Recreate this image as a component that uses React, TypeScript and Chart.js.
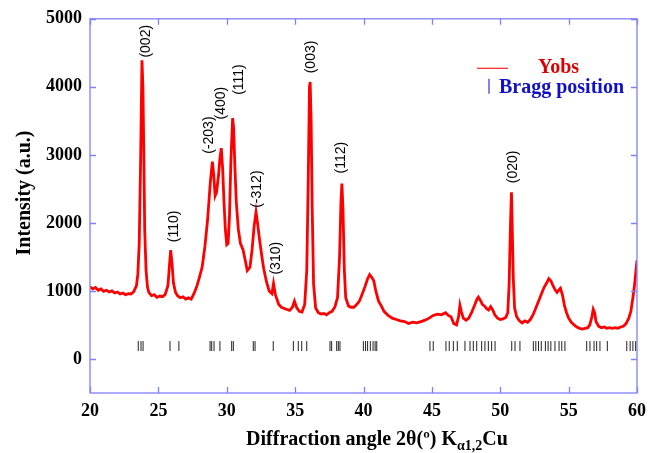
import React, { useEffect, useRef } from "react";
import { Chart, registerables } from "chart.js";

Chart.register(...registerables);

// Observed pattern (2θ in degrees, intensity in a.u.)
const twoTheta = [
  20.0, 20.2, 20.4, 20.6, 20.8, 21.0, 21.2, 21.4, 21.6, 21.8, 22.0, 22.2, 22.4, 22.6, 22.8, 23.0, 23.2, 23.4, 23.5, 23.6,
  23.7, 23.8, 23.87, 23.93, 24.0, 24.1, 24.2, 24.3, 24.5, 24.7, 24.9, 25.1, 25.3, 25.5, 25.7, 25.8, 25.9, 26.0, 26.1, 26.25,
  26.4, 26.6, 26.8, 27.0, 27.2, 27.4, 27.6, 27.8, 28.0, 28.2, 28.4, 28.6, 28.8, 28.95, 29.05, 29.15, 29.25, 29.4, 29.5, 29.6,
  29.7, 29.8, 29.9, 30.0, 30.1, 30.2, 30.3, 30.43, 30.5, 30.6, 30.7, 30.85, 31.0, 31.2, 31.35, 31.5, 31.7, 31.85, 32.0, 32.14,
  32.25, 32.4, 32.55, 32.7, 32.9, 33.1, 33.3, 33.42, 33.55, 33.8, 34.0, 34.3, 34.6, 34.8, 34.95, 35.1, 35.3, 35.5, 35.7, 35.85,
  35.95, 36.05, 36.1, 36.17, 36.25, 36.35, 36.5, 36.7, 36.9, 37.1, 37.3, 37.5, 37.7, 37.9, 38.1, 38.25, 38.35, 38.42, 38.5, 38.6,
  38.7, 38.9, 39.1, 39.3, 39.5, 39.7, 39.9, 40.1, 40.3, 40.45, 40.6, 40.75, 40.9, 41.1, 41.3, 41.5, 41.8, 42.1, 42.4, 42.7,
  43.0, 43.3, 43.6, 43.9, 44.2, 44.5, 44.8, 45.1, 45.4, 45.7, 46.0, 46.2, 46.4, 46.6, 46.8, 46.95, 47.05, 47.15, 47.3, 47.5,
  47.7, 47.9, 48.1, 48.3, 48.4, 48.55, 48.7, 48.85, 49.0, 49.15, 49.3, 49.45, 49.6, 49.8, 50.0, 50.2, 50.4, 50.55, 50.65, 50.75,
  50.82, 50.88, 50.95, 51.05, 51.2, 51.4, 51.6, 51.8, 52.0, 52.2, 52.4, 52.6, 52.8, 53.0, 53.2, 53.4, 53.55, 53.7, 53.85, 54.0,
  54.15, 54.3, 54.4, 54.55, 54.7, 54.85, 55.0, 55.2, 55.4, 55.6, 55.8, 56.0, 56.2, 56.4, 56.55, 56.7, 56.8, 56.9, 57.0, 57.2,
  57.4, 57.6, 57.8, 58.0, 58.2, 58.4, 58.6, 58.8, 59.0, 59.2, 59.4, 59.55, 59.7, 59.8, 59.9, 60.0,
];
const intensity = [
  1060, 1030, 1050, 1010, 1030, 995, 1010, 985, 1000, 970, 985, 955, 970, 945, 960, 955, 990, 1080, 1250, 1700,
  2900, 4390, 4000, 3100, 1900, 1300, 1060, 980, 930, 945, 905, 925, 915, 950, 1080, 1350, 1600, 1400, 1120, 980,
  930, 900, 915, 880, 900, 880, 960, 1060, 1200, 1350, 1650, 2050, 2600, 2900, 2700, 2400, 2450, 2700, 2950, 3100,
  2800, 2300, 1900, 1680, 1700, 2100, 2900, 3540, 3400, 2800, 2300, 1900, 1700, 1600, 1450, 1300, 1350, 1600, 1950, 2160,
  2000, 1750, 1530, 1330, 1140, 1000, 960, 1110, 950, 800, 760, 735, 715, 760, 850, 760, 700, 690, 800, 1300,
  2500, 4000, 4070, 3500, 2200, 1100, 750, 680, 660, 670, 650, 680, 700, 760, 900, 1500, 2300, 2580, 2200, 1300,
  900, 780, 760, 760, 800, 850, 950, 1060, 1180, 1240, 1200, 1150, 1000, 850, 780, 700, 640, 600, 580, 560,
  550, 520, 540, 530, 550, 570, 600, 640, 660, 650, 680, 640, 620, 520, 500, 620, 790, 700, 600, 570,
  600, 680, 780, 880, 910, 860, 800, 780, 740, 720, 770, 720, 650, 600, 580, 590, 610, 680, 1100, 2000,
  2450, 1900, 1200, 750, 620, 560, 530, 560, 540, 580, 650, 750, 850, 950, 1050, 1120, 1180, 1150, 1080, 1020,
  980, 1020, 1040, 940, 780, 680, 600, 540, 500, 470, 450, 440, 450, 460, 500, 620, 730, 680, 550, 480,
  460, 470, 450, 460, 450, 460, 450, 470, 480, 520, 600, 700, 900, 1050, 1250, 1450,
];

// Bragg reflection positions (2θ)
const braggPositions = [
  23.53, 23.73, 23.88, 25.85, 26.5, 28.78, 28.9, 29.07, 29.5, 30.36, 30.48, 31.94, 32.07, 33.4,
  34.87, 35.23, 35.48, 35.85, 37.55, 37.67, 38.04, 38.16, 38.28, 39.99, 40.15, 40.3, 40.5, 40.7, 40.85, 40.97,
  44.86, 45.1, 46.03, 46.27, 46.57, 46.86, 47.42, 47.79, 48.03, 48.28, 48.64, 48.88, 49.13, 49.37, 49.62,
  50.84, 51.08, 51.44, 52.42, 52.6, 52.8, 53.0, 53.3, 53.5, 53.7, 54.0, 54.3, 54.5, 54.73,
  56.32, 56.56, 56.86, 57.05, 57.29, 57.83, 59.25, 59.5, 59.7, 59.9,
];
const braggLevel = 190;

// Miller index labels
const peakLabels = ["(002)", "(110)", "(-203)", "(400)", "(111)", "(-312)", "(310)", "(003)", "(112)", "(020)"];
const peakLabelAngle = [24.1, 26.14, 28.74, 29.58, 30.9, 32.25, 33.64, 36.16, 38.39, 50.93];
const peakLabelBase = [4430, 1717, 3016, 3521, 3882, 2222, 1241, 4199, 2727, 2583];

const xTicks = [20, 25, 30, 35, 40, 45, 50, 55, 60];
const yTicks = [0, 1000, 2000, 3000, 4000, 5000];

const AXIS = "#8080ff";
const SERIF = '"Liberation Serif", "Times New Roman", serif';

const overlay = {
  id: "overlay",
  afterDraw(chart: any) {
    const { ctx, chartArea: a, scales } = chart;
    const x = scales.x;
    const y = scales.y;
    ctx.save();
    // frame
    ctx.strokeStyle = AXIS;
    ctx.lineWidth = 1.3;
    ctx.strokeRect(a.left, a.top, a.right - a.left, a.bottom - a.top);
    ctx.beginPath();
    xTicks.forEach((v) => {
      const px = Math.round(x.getPixelForValue(v)) + 0.5;
      ctx.moveTo(px, a.bottom);
      ctx.lineTo(px, a.bottom - 6);
      ctx.moveTo(px, a.top);
      ctx.lineTo(px, a.top + 6);
    });
    yTicks.forEach((v) => {
      const py = Math.round(y.getPixelForValue(v)) + 0.5;
      ctx.moveTo(a.left, py);
      ctx.lineTo(a.left + 6, py);
      ctx.moveTo(a.right, py);
      ctx.lineTo(a.right - 6, py);
    });
    ctx.stroke();

    // peak labels
    ctx.fillStyle = "#000";
    ctx.font = '14px "Liberation Sans", Arial, sans-serif';
    ctx.textAlign = "left";
    ctx.textBaseline = "middle";
    peakLabels.forEach((t, i) => {
      const px = x.getPixelForValue(peakLabelAngle[i]);
      const py = y.getPixelForValue(peakLabelBase[i]);
      ctx.save();
      ctx.translate(px, py);
      ctx.rotate(-Math.PI / 2);
      ctx.fillText(t, 0, 0);
      ctx.restore();
    });

    // legend
    ctx.strokeStyle = "#ff2020";
    ctx.lineWidth = 1.2;
    ctx.beginPath();
    ctx.moveTo(a.right - 160, a.top + 49.5);
    ctx.lineTo(a.right - 129, a.top + 49.5);
    ctx.stroke();
    ctx.font = "bold 20px " + SERIF;
    ctx.textBaseline = "alphabetic";
    ctx.fillStyle = "#dd0000";
    ctx.fillText("Yobs", a.right - 99, a.top + 54);
    ctx.strokeStyle = "#3030dd";
    ctx.beginPath();
    ctx.moveTo(a.right - 148, a.top + 60);
    ctx.lineTo(a.right - 148, a.top + 75);
    ctx.stroke();
    ctx.fillStyle = "#1010cc";
    ctx.fillText("Bragg position", a.right - 138, a.top + 74.5);

    // y title
    ctx.fillStyle = "#000";
    ctx.save();
    ctx.translate(25, 193);
    ctx.rotate(-Math.PI / 2);
    ctx.textAlign = "center";
    ctx.textBaseline = "middle";
    ctx.font = "bold 20px " + SERIF;
    ctx.fillText("Intensity (a.u.)", 0, 0);
    ctx.restore();

    // x title with subscript
    const big = "bold 20px " + SERIF;
    const small = "bold 14px " + SERIF;
    const p1 = "Diffraction angle 2\u03b8(\u00ba) K";
    const p2 = "\u03b11,2";
    const p3 = "Cu";
    ctx.font = big;
    const w1 = ctx.measureText(p1).width;
    const w3 = ctx.measureText(p3).width;
    ctx.font = small;
    const w2 = ctx.measureText(p2).width;
    const total = w1 + w2 + w3;
    let cx = 377 - total / 2;
    const base = 445;
    ctx.textAlign = "left";
    ctx.textBaseline = "alphabetic";
    ctx.font = big;
    ctx.fillText(p1, cx, base);
    cx += w1;
    ctx.font = small;
    ctx.fillText(p2, cx, base + 5);
    cx += w2;
    ctx.font = big;
    ctx.fillText(p3, cx, base);
    ctx.restore();
  },
};

export default function App() {
  const ref = useRef<HTMLCanvasElement | null>(null);
  useEffect(() => {
    if (!ref.current) return;
    const chart = new Chart(ref.current, {
      type: "line",
      data: {
        datasets: [
          {
            label: "Yobs",
            data: twoTheta.map((t, i) => ({ x: t, y: intensity[i] })),
            borderColor: "#ff0000",
            borderWidth: 2.8,
            pointRadius: 0,
            tension: 0,
          },
          {
            label: "Bragg position",
            type: "scatter",
            data: braggPositions.map((t) => ({ x: t, y: braggLevel })),
            showLine: false,
            pointStyle: "line",
            rotation: 90,
            radius: 5,
            borderColor: "#222",
            borderWidth: 1,
            backgroundColor: "#222",
          } as any,
        ],
      },
      options: {
        responsive: false,
        animation: false,
        layout: { padding: { left: 0, top: 12, right: 22, bottom: 0 } },
        plugins: { legend: { display: false }, tooltip: { enabled: false } },
        scales: {
          x: {
            type: "linear",
            min: 20,
            max: 60,
            grid: { display: false, drawTicks: false },
            border: { display: false },
            afterBuildTicks: (s: any) => {
              s.ticks = xTicks.map((v) => ({ value: v }));
            },
            afterFit: (s: any) => {
              s.height = 60;
            },
            ticks: {
              color: "#000",
              padding: 8,
              maxRotation: 0,
              callback: (v: any) => String(v),
              font: { family: SERIF, size: 18, weight: "bold" },
            },
          },
          y: {
            type: "linear",
            min: -500,
            max: 5000,
            grid: { display: false, drawTicks: false },
            border: { display: false },
            afterBuildTicks: (s: any) => {
              s.ticks = yTicks.map((v) => ({ value: v }));
            },
            afterFit: (s: any) => {
              s.width = 90;
            },
            ticks: {
              color: "#000",
              padding: 8,
              callback: (v: any) => String(v),
              font: { family: SERIF, size: 18, weight: "bold" },
            },
          },
        },
      },
      plugins: [overlay],
    });
    return () => chart.destroy();
  }, []);
  return (
    <div style={{ position: "absolute", left: 0, top: 0, width: 659, height: 453, background: "#fff" }}>
      <canvas ref={ref} width={659} height={453} style={{ display: "block" }} />
    </div>
  );
}
